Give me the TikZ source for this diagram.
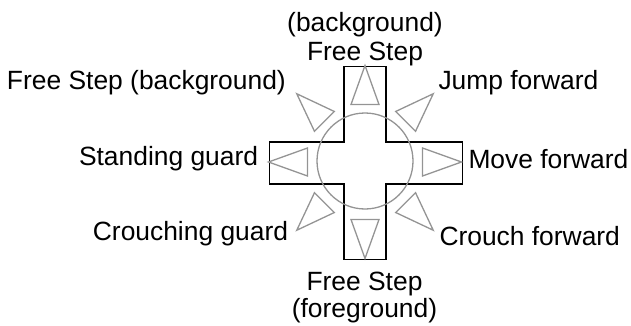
\documentclass[tikz,border=0pt]{standalone}
\usepackage{fontspec}
\setmainfont{Liberation Sans}
\usepackage{tikz}

\begin{document}
\begin{tikzpicture}[x=1pt,y=-1pt]

	\tikzset{lbl/.style={inner sep=0pt,font=\fontsize{26.4}{29.5}\selectfont}}
	\tikzset{tri/.style={draw=black!42,line width=1.3pt,line join=miter}}

	\useasboundingbox (0,0) rectangle (631,326);

	% pad
	
	\begin{scope}[shift={(365,162)}]
	
		\def\w{20.8}
		\def\l{96.5}
		
		\draw[line width=1.6pt] (-\w,-\l+1) -- (\w,-\l+1) -- (\w,-\w+1) -- (\l+1,-\w+1) -- (\l+1,\w+1) -- (\w,\w+1) -- (\w,\l+1) -- (-\w,\l+1) -- (-\w,\w+1) -- (-\l+1,\w+1) -- (-\l+1,-\w+1) -- (-\w,-\w+1) -- cycle;
		
		\draw[tri] (0,-1) circle (48);
		
		\foreach \a in {0,45,...,315} {
			\draw[tri,rotate=\a] (57.5,14) -- (96.5,0) -- (57.5,-14) -- cycle;
		}
	
	\end{scope}
	
	% labels
	
	\node[lbl,anchor=base] (upa) at (365,31.8) {(background)};
	\node[lbl,anchor=base] (upb) at (365,61) {Free Step};
	\node[lbl,anchor=base east] (upleft) at (286,89.3) {Free Step (background)};
	\node[lbl,anchor=base west] (upright) at (438.3,89.3) {Jump forward};
	\node[lbl,anchor=base east] (left) at (258.3,165) {Standing guard};
	\node[lbl,anchor=base west] (right) at (468.3,168.3) {Move forward};
	\node[lbl,anchor=base east] (downleft) at (288.3,240.7) {Crouching guard};
	\node[lbl,anchor=base west] (downright) at (439.3,245) {Crouch forward};
	\node[lbl,anchor=base] (downa) at (364.5,290.5) {Free Step};
	\node[lbl,anchor=base] (downb) at (364.5,317.8) {(foreground)};

\end{tikzpicture}
\end{document}
